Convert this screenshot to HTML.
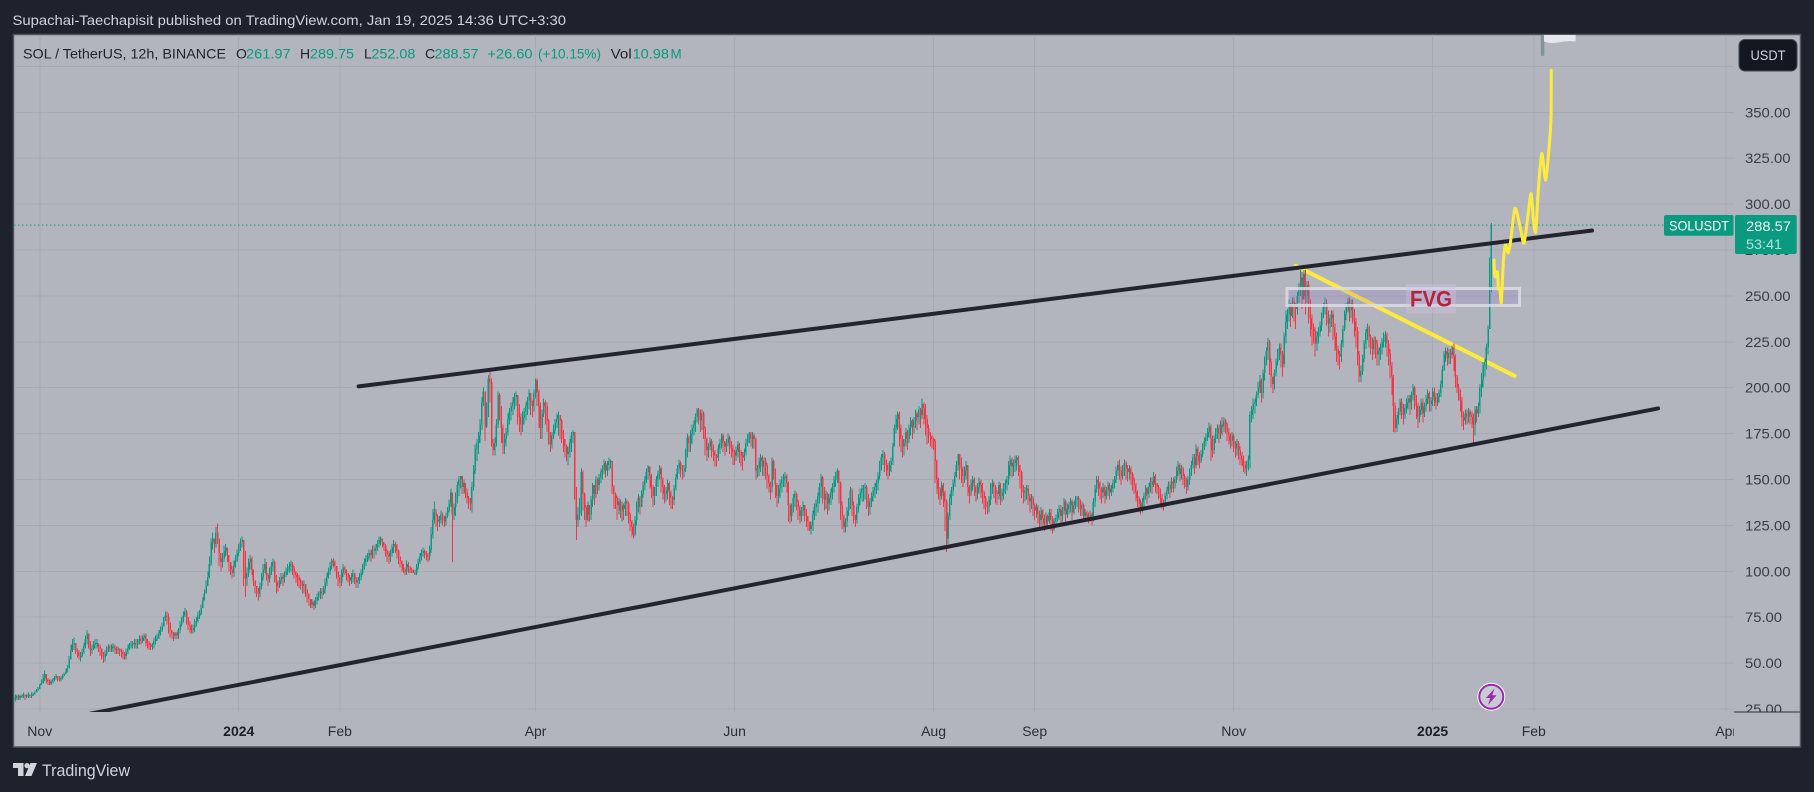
<!DOCTYPE html>
<html lang="en">
<head>
<meta charset="utf-8">
<title>SOL / TetherUS 12h chart</title>
<style>
html,body{margin:0;padding:0;width:1814px;height:792px;overflow:hidden;background:#1e222d}
svg{display:block;font-family:"Liberation Sans",sans-serif}
</style>
</head>
<body>
<svg id="stage" xmlns="http://www.w3.org/2000/svg" width="1814" height="792" viewBox="0 0 1814 792">
  <defs>
    <clipPath id="paneClip"><rect x="14" y="35" width="1720" height="677"/></clipPath>
    <clipPath id="priceAxisClip"><rect x="1734" y="35" width="66" height="677"/></clipPath>
    <clipPath id="timeAxisClip"><rect x="14" y="712" width="1720" height="34"/></clipPath>
  </defs>
  <rect x="0" y="0" width="1814" height="792" fill="#1e222d"/>
  <text x="12.5" y="25" font-size="14" fill="#d1d4dc" textLength="553.5" lengthAdjust="spacingAndGlyphs">Supachai-Taechapisit published on TradingView.com, Jan 19, 2025 14:36 UTC+3:30</text>
  <rect x="13.5" y="34.5" width="1787" height="712.5" fill="#b2b5be" stroke="#50535e" stroke-width="1.5"/>
  <g id="grid" clip-path="url(#paneClip)" shape-rendering="crispEdges"></g>
  <line id="lastPriceLine" x1="14" x2="1664" stroke="#089981" stroke-width="1" stroke-dasharray="1.5 2.5"/>
  <g id="trendLayer" clip-path="url(#paneClip)"></g>
  <g id="candles" clip-path="url(#paneClip)" shape-rendering="crispEdges"></g>
  <g id="drawings" clip-path="url(#paneClip)"></g>
  <g clip-path="url(#paneClip)">
    <rect x="1540.8" y="30" width="3.6" height="26" rx="1.5" fill="#84949f"/>
    <path d="M1544 30H1575.6V41.5Q1567 40.5 1558 42.5Q1550 44 1544 41.5Z" fill="#e4e8ee"/>
  </g>

  <g font-size="14">
    <text x="23" y="58.5" fill="#1f222c" textLength="203" lengthAdjust="spacingAndGlyphs">SOL / TetherUS, 12h, BINANCE</text>
    <text x="236" y="58.5" fill="#1f222c">O</text>
    <text x="246" y="58.5" fill="#089981" textLength="44.6" lengthAdjust="spacingAndGlyphs">261.97</text>
    <text x="300" y="58.5" fill="#1f222c">H</text>
    <text x="310" y="58.5" fill="#089981" textLength="44" lengthAdjust="spacingAndGlyphs">289.75</text>
    <text x="364" y="58.5" fill="#1f222c">L</text>
    <text x="371.4" y="58.5" fill="#089981" textLength="44" lengthAdjust="spacingAndGlyphs">252.08</text>
    <text x="425" y="58.5" fill="#1f222c">C</text>
    <text x="434.5" y="58.5" fill="#089981" textLength="44" lengthAdjust="spacingAndGlyphs">288.57</text>
    <text x="487.5" y="58.5" fill="#089981" textLength="45" lengthAdjust="spacingAndGlyphs">+26.60</text>
    <text x="538" y="58.5" fill="#089981" textLength="63" lengthAdjust="spacingAndGlyphs">(+10.15%)</text>
    <text x="610.7" y="58.5" fill="#1f222c" textLength="21" lengthAdjust="spacingAndGlyphs">Vol</text>
    <text x="632.6" y="58.5" fill="#089981" textLength="36.4" lengthAdjust="spacingAndGlyphs">10.98</text>
    <text x="670.5" y="58.5" fill="#089981" textLength="11.2" lengthAdjust="spacingAndGlyphs">M</text>
  </g>

  <g id="priceAxis" clip-path="url(#priceAxisClip)"></g>
  <g id="timeAxis" clip-path="url(#timeAxisClip)"></g>
  <line x1="1734" y1="712" x2="1800" y2="712" stroke="#2a2e39" stroke-width="1"/>

  <g>
    <rect x="1739" y="39.5" width="58" height="31.5" rx="6" fill="#131722" stroke="#454853"/>
    <text x="1750.5" y="60" font-size="14" fill="#d1d4dc" textLength="35" lengthAdjust="spacingAndGlyphs">USDT</text>
  </g>

  <g>
    <rect x="1664" y="215" width="69.5" height="20.7" rx="2" fill="#0a9a80"/>
    <text x="1669" y="230.5" font-size="14" fill="#ffffff" textLength="60" lengthAdjust="spacingAndGlyphs">SOLUSDT</text>
    <rect x="1735" y="215" width="61.7" height="39" rx="2" fill="#0a9a80"/>
    <text x="1746" y="231" font-size="14" fill="#e8f6f3" textLength="45" lengthAdjust="spacingAndGlyphs">288.57</text>
    <text x="1746" y="249" font-size="14" fill="#b5e1d8" textLength="36" lengthAdjust="spacingAndGlyphs">53:41</text>
  </g>

  <g>
    <circle cx="1491.3" cy="696.7" r="14" fill="#ffffff"/>
    <circle cx="1491.3" cy="696.7" r="12" fill="#c9cbd2" stroke="#9c27b0" stroke-width="2"/>
    <polygon points="1494.5,688.5 1486,698 1490.3,698 1488,705 1496.6,695.2 1492.2,695.2" fill="#9c27b0"/>
  </g>

  <g fill="#d1d4dc">
    <path d="M13 763H23.5V776H18V768H13Z"/>
    <circle cx="27" cy="765.6" r="2.6"/>
    <polygon points="30.5,763 37,763 31.5,776 25,776"/>
    <text x="42" y="776" font-size="17" textLength="88" lengthAdjust="spacingAndGlyphs">TradingView</text>
  </g>
</svg>

<script>
const closes = [
31,32,31,32,32,33,32,32,33,32,33,33,34,35,36,38,39,42,44,41,
40,39,40,41,42,43,42,41,42,43,44,45,47,52,57,60,61,57,56,54,
54,56,59,63,66,62,57,58,60,61,61,59,58,55,53,55,57,59,58,59,
59,58,57,58,57,56,55,54,56,58,60,60,61,61,60,62,63,62,64,65,
63,61,60,59,60,62,63,64,66,68,70,73,76,75,72,68,66,65,66,65,
68,71,73,76,78,75,71,70,68,69,72,73,76,77,80,84,88,92,97,104,
116,118,115,121,118,110,105,107,111,113,109,105,101,99,103,106,110,113,116,117,
110,96,99,105,107,101,95,92,89,88,92,97,101,104,98,96,100,103,105,97,
94,92,95,97,96,98,100,102,103,104,102,100,98,97,95,94,92,93,90,88,
85,82,83,81,84,86,87,89,88,90,94,97,100,103,106,105,103,100,97,94,
99,102,101,99,97,95,97,99,96,94,95,97,99,102,105,107,108,110,109,112,
111,113,115,117,118,116,114,111,109,108,110,113,115,114,111,108,106,104,101,100,
104,102,101,100,99,99,102,105,108,110,111,110,109,108,112,120,128,132,130,127,
128,131,129,127,130,133,137,143,131,135,141,147,150,152,146,148,143,140,138,137,
146,155,167,170,174,180,192,198,179,188,205,203,170,166,170,180,196,188,178,170,
172,176,183,187,190,192,195,196,190,184,180,184,187,190,193,197,192,190,197,204,
198,190,178,186,192,190,182,176,169,174,177,181,183,185,182,176,172,168,164,165,
170,174,176,145,128,131,138,154,142,135,128,136,131,139,147,142,150,147,151,154,
155,159,155,158,160,160,146,142,140,136,138,133,136,134,138,137,131,127,124,120,
128,136,140,135,142,147,150,154,157,152,146,141,144,150,153,156,150,146,142,144,
148,143,140,139,145,151,156,159,157,155,156,165,173,170,175,178,180,184,188,186,
182,186,178,172,166,168,171,168,165,163,162,167,170,174,171,168,170,173,170,167,
165,163,166,169,165,163,162,165,170,173,175,172,174,172,155,156,160,162,157,160,
158,152,148,146,160,155,147,141,145,148,150,151,152,148,136,130,135,140,142,138,
135,130,133,136,133,130,127,123,125,131,135,137,141,146,151,144,139,142,137,140,
143,146,150,152,155,148,136,130,124,127,133,138,144,136,130,128,135,140,143,145,
145,146,141,135,138,141,144,146,148,152,158,162,164,160,158,155,158,160,168,178,
183,186,178,172,168,170,176,172,178,182,179,182,186,184,188,185,191,189,183,178,
176,174,172,171,160,150,145,141,147,143,138,118,130,140,144,148,152,158,164,160,
156,152,155,158,146,143,148,150,146,143,146,149,147,143,140,137,135,139,146,148,
146,143,142,147,141,143,146,148,150,158,161,157,159,161,162,158,154,146,143,144,
145,141,138,140,136,133,135,131,128,133,129,126,130,127,132,128,123,127,129,132,
134,130,133,138,131,134,136,138,132,136,139,140,137,134,136,130,132,131,129,131,
130,138,145,150,148,145,143,146,141,144,147,143,145,148,150,155,158,155,152,156,
159,156,154,156,153,150,147,143,140,137,134,138,141,145,142,146,149,147,152,148,
146,143,140,137,136,141,144,147,145,149,148,150,155,158,153,156,152,149,146,150,
154,158,162,158,167,163,160,164,168,171,173,176,179,172,166,172,176,178,175,180,
179,182,180,176,174,171,174,170,167,170,166,163,161,158,156,158,161,185,188,191,
192,196,200,204,197,208,215,220,225,214,206,202,208,214,219,222,218,213,228,236,
240,245,239,247,244,243,250,255,260,248,262,250,256,246,238,232,231,224,228,230,
234,239,244,246,240,235,238,240,233,228,221,218,217,224,232,240,244,247,242,246,
241,236,231,218,206,209,216,224,230,233,228,225,221,226,224,218,220,222,225,228,
229,224,219,212,206,190,178,183,187,192,188,185,189,192,194,192,196,200,194,190,
184,188,192,186,190,194,197,191,193,198,195,192,195,197,202,210,218,220,216,219,
218,222,217,206,200,197,193,184,182,186,184,187,185,184,180,188,186,190,200,204,
212,214,222,232,261.97,288.57];

const highs = [
33,33,33,33,33,34,33,33,34,33,34,34,35,36,37,39,41,44,46,44,
42,41,41,42,43,44,43,43,43,44,45,47,49,54,60,63,64,60,58,57,
56,58,61,65,68,66,60,60,62,63,63,61,60,58,56,57,59,60,60,60,
61,60,59,59,58,58,57,56,58,60,61,62,62,63,63,63,65,65,65,66,
66,63,62,61,61,64,65,66,68,70,72,75,78,78,77,71,68,67,67,67,
69,73,75,78,80,79,75,73,71,71,74,75,78,79,82,86,90,95,100,108,
118,121,118,124,126,118,110,110,114,115,113,108,104,103,106,109,112,115,118,119,
117,111,102,107,109,108,100,95,92,91,94,99,104,107,105,99,102,105,107,106,
98,95,97,99,99,100,102,104,105,106,105,103,100,99,98,96,95,95,93,90,
88,85,85,84,86,88,89,91,91,92,96,99,102,105,107,107,106,103,100,98,
101,104,103,101,99,98,99,101,99,97,97,99,101,104,107,109,110,112,112,114,
114,115,117,119,119,118,116,115,112,111,112,115,117,116,115,112,108,106,104,102,
106,105,103,102,101,101,104,107,110,112,113,112,111,110,114,124,134,138,134,131,
130,133,132,130,132,135,139,145,143,137,143,149,152,152,152,150,148,145,141,140,
149,158,169,172,176,183,195,200,198,192,207,210,205,172,173,183,198,197,190,180,
175,178,186,189,192,195,197,198,196,191,186,187,189,192,195,199,197,193,199,205,
205,199,192,188,194,193,192,183,176,176,180,183,186,187,185,183,177,172,169,168,
172,176,177,176,146,135,140,156,155,143,136,138,136,141,148,147,152,151,153,156,
158,161,160,160,162,161,160,147,143,141,140,139,138,137,140,139,138,132,128,126,
130,138,142,141,144,149,152,156,158,157,153,147,146,152,155,158,157,151,147,146,
150,149,144,141,147,153,158,161,160,158,158,167,175,174,177,180,182,186,189,189,
188,188,187,179,173,170,173,172,169,166,164,169,172,175,175,171,172,175,174,171,
169,166,168,171,170,166,165,167,172,175,176,176,176,175,173,158,162,164,163,162,
162,159,153,149,162,161,156,148,147,150,152,153,154,153,149,137,137,142,144,143,
139,136,135,138,136,134,129,127,127,133,137,139,143,148,153,152,146,144,143,142,
145,148,152,154,156,155,149,138,131,129,135,140,146,145,138,131,137,142,145,147,
147,148,147,142,140,143,146,148,150,154,160,164,166,165,161,159,160,162,170,180,
185,187,187,180,174,172,178,177,180,184,183,184,188,187,190,189,194,192,191,185,
180,176,174,173,172,161,151,146,149,148,144,139,132,142,146,150,154,160,164,164,
162,157,157,160,158,147,150,152,151,147,148,151,150,148,144,141,138,141,148,150,
149,147,144,149,148,145,148,150,152,160,163,162,161,163,163,163,158,155,147,146,
147,147,142,142,141,137,137,136,133,135,134,131,132,131,134,134,130,129,131,134,
136,136,135,140,139,137,138,140,139,138,141,141,141,139,138,137,134,133,132,133,
132,140,147,152,152,149,146,148,147,146,149,148,147,150,152,157,160,161,157,158,
161,160,158,158,157,154,151,148,144,141,139,140,143,147,146,148,151,151,154,153,
148,147,145,142,139,143,146,149,149,151,151,152,157,160,159,158,157,153,151,152,
156,160,164,164,169,168,165,166,170,173,175,178,181,180,174,174,178,180,180,182,
184,184,183,181,178,175,176,175,171,172,171,168,165,163,160,160,163,187,190,194,
194,198,203,207,205,210,217,222,227,226,216,206,210,216,221,224,224,220,230,242,
243,248,246,249,249,246,252,257,264,263,264,264,258,258,248,240,235,233,231,233,
236,241,246,249,248,242,240,242,242,235,230,223,220,226,234,242,246,249,249,248,
248,243,238,233,220,212,218,226,232,235,234,229,227,228,228,226,222,224,227,230,
231,230,226,221,214,207,192,185,189,194,194,191,191,194,196,196,198,202,201,196,
192,190,194,194,192,196,199,198,195,200,200,197,197,199,204,212,220,222,222,221,
221,223,224,218,207,202,199,195,187,188,188,189,188,187,186,190,190,192,202,208,
214,216,224,234,271,289.75];

const lows = [
29,30,30,30,31,31,30,31,31,31,31,32,33,34,35,36,38,40,40,39,
38,38,38,39,40,41,40,40,40,41,43,44,45,47,52,56,57,55,53,52,
51,53,55,58,60,58,54,55,57,58,58,56,54,52,50,51,54,56,56,56,
56,55,55,55,54,53,52,52,52,55,57,58,58,58,58,58,60,60,61,62,
59,58,57,57,57,58,60,62,63,65,67,70,73,71,66,64,63,62,63,63,
63,66,70,72,75,71,68,66,66,66,67,70,72,74,76,80,85,88,92,96,
103,112,110,113,115,103,100,102,105,108,105,100,98,96,97,102,105,108,111,113,
92,86,92,97,101,98,92,88,86,84,86,90,95,99,95,92,94,98,100,94,
88,89,91,93,92,94,97,98,99,100,98,96,94,92,91,90,88,88,86,83,
81,80,80,79,80,82,84,85,85,87,88,92,96,98,101,102,100,96,92,91,
92,97,98,95,94,92,93,94,93,91,91,93,95,98,101,103,105,106,105,107,
107,109,111,113,114,113,111,108,105,104,105,108,110,110,107,104,102,100,99,98,
98,99,99,99,99,98,98,101,104,106,108,107,106,105,106,110,118,126,124,122,
124,126,125,124,125,129,132,135,105,128,130,137,141,145,142,142,140,137,134,133,
132,144,153,160,164,170,177,190,171,178,184,192,168,163,163,168,178,182,170,164,
164,168,174,180,182,185,188,190,180,176,174,176,180,182,185,188,185,184,187,194,
190,178,172,172,184,180,176,169,165,167,172,175,178,174,172,170,165,162,160,158,
162,165,170,139,117,124,128,130,133,128,124,127,127,128,135,136,140,142,144,148,
150,153,151,152,155,156,142,134,134,128,131,129,127,128,130,130,126,122,119,118,
119,125,132,131,136,140,144,148,150,145,140,135,136,141,146,150,143,139,137,138,
139,136,134,134,136,144,150,153,151,150,151,154,162,165,165,169,174,176,181,180,
176,177,172,163,160,162,166,162,160,157,157,160,164,167,165,163,165,168,164,162,
158,158,160,162,159,157,155,160,163,168,170,168,167,167,150,151,152,154,152,152,
150,145,143,139,143,150,140,135,137,140,143,146,146,143,127,126,127,132,135,133,
128,126,127,130,127,124,122,122,120,122,128,130,132,137,140,137,133,134,131,133,
136,139,143,146,148,137,128,123,121,121,124,130,134,130,126,124,126,132,136,138,
138,139,134,130,131,135,138,140,142,144,150,155,158,154,152,150,152,154,158,168,
175,177,168,165,162,163,168,166,170,174,172,175,178,177,180,178,183,180,174,169,
170,168,167,166,148,142,139,136,139,135,122,110.6,115,128,136,141,146,151,155,150,
148,146,148,150,141,137,141,144,141,138,139,142,140,137,134,131,131,132,136,142,
140,137,136,139,136,138,139,142,144,147,152,151,152,154,155,152,145,140,137,138,
139,136,132,134,130,128,129,126,124,125,123,122,124,123,126,122,120.6,122,125,127,
128,126,127,131,127,129,131,132,128,131,134,135,132,130,130,127,128,127,126,127,
125,127,135,143,141,139,137,140,137,139,141,139,141,143,145,148,152,150,147,150,
152,150,149,150,147,144,142,138,135,132,131,132,135,139,137,140,143,142,146,143,
142,139,136,134,133,135,139,142,140,143,143,145,148,152,149,150,147,145,142,144,
147,152,156,153,156,158,156,159,162,166,168,171,173,160,162,164,170,172,170,172,
174,176,175,171,169,167,168,165,162,163,161,158,157,154,153,152,155,156,181,183,
186,190,194,197,192,194,204,212,215,207,200,197,199,206,212,215,211,206,211,224,
232,236,233,238,236,232,240,246,250,243,250,240,246,235,228,223,224,217,220,224,
228,231,238,240,234,228,230,233,226,220,214,212,210,214,222,231,237,241,236,238,
235,228,222,212,203,203,207,214,221,226,222,218,215,218,216,212,212,215,218,222,
222,217,212,205,196,176,175.5,176,180,185,183,180,183,186,188,185,188,193,188,183,
178,181,185,181,184,187,191,187,187,190,190,188,190,192,195,200,209,214,212,213,
213,216,209,200,197,193,187,179,177,180,180,181,180,178,170,174,181,184,186,195,
200,206,210,218,239,252.08];

const firstOpen = 31;
const lastPrice = 288.57;
const priceTicks = [375,350,325,300,275,250,225,200,175,150,125,100,75,50,25];
const priceTickLabels = ["","350.00","325.00","300.00","275.00","250.00","225.00","200.00","175.00","150.00","125.00","100.00","75.00","50.00","25.00"];
const timeTickBars = [15,137,199,319,441,563,625,747,869,931,1049];
const timeTickLabels = ["Nov","2024","Feb","Apr","Jun","Aug","Sep","Nov","2025","Feb","Apr"];
const timeTickMajor = ["2024","2025"];
const channelUpperBars = [210.5,966.7];
const channelUpperPrices = [200.7,285.6];
const channelLowerBars = [45.8,1007.2];
const channelLowerPrices = [22.4,188.7];
const trendBars = [785,919.3];
const trendPrices = [266.4,206.4];
const fvgBars = [779.7,922.3];
const fvgPrices = [254,244.8];
const fvgLabelBar = 868;
const fvgLabelPrice = 248.5;
const projectionBars = [906.6,907.2,908.7,909.3,910.3,911.1,912.3,913.6,915.4,916.9,919.5,922.6,925,927.1,929.3,930.8,932.2,933.8,935.9,938.3,940.6,941.6,941.7];
const projectionPrices = [269.5,260.5,263.2,254.1,253.6,246.3,267.7,277.7,273.5,280.4,297.7,287.7,278.6,291.3,305.8,291.3,285,307.7,327.6,313.1,333.1,347.6,373];

const NS = 'http://www.w3.org/2000/svg';
const xScale = function (bar) { return 15.3 + 1.631 * bar; };
const yScale = function (price) { return 709 - (price - 25) * 1.836; };
function make(tag, attrs, parent) {
  const el = document.createElementNS(NS, tag);
  for (const k in attrs) el.setAttribute(k, attrs[k]);
  parent.appendChild(el);
  return el;
}

const gridLayer = document.getElementById('grid');
const candleLayer = document.getElementById('candles');
const trendLayer = document.getElementById('trendLayer');
const drawingLayer = document.getElementById('drawings');
const priceAxisLayer = document.getElementById('priceAxis');
const timeAxisLayer = document.getElementById('timeAxis');

priceTicks.forEach(function (p, i) {
  const y = yScale(p);
  const line = make('line', {x1: 14, x2: 1734, y1: y, y2: y, stroke: '#a7aab3', 'stroke-width': 1}, gridLayer);
  
  
  if (priceTickLabels[i]) {
    const label = make('text', {x: 1745, y: y + 5, 'font-size': 14, fill: '#383b46', textLength: priceTickLabels[i].length === 6 ? 45.5 : 37, lengthAdjust: 'spacingAndGlyphs'}, priceAxisLayer);
    label.textContent = priceTickLabels[i];
    
    
  }
});

timeTickBars.forEach(function (b, i) {
  const x = xScale(b);
  const line = make('line', {x1: x, x2: x, y1: 35, y2: 712, stroke: '#a7aab3', 'stroke-width': 1}, gridLayer);
  
  
  const major = timeTickMajor.indexOf(timeTickLabels[i]) >= 0;
  const label = make('text', {x: x, y: 736, 'font-size': 14, 'text-anchor': 'middle', fill: major ? '#1b1e28' : '#2a2d38', 'font-weight': major ? 'bold' : 'normal'}, timeAxisLayer);
  label.textContent = timeTickLabels[i];
  
  
});

const priceLine = document.getElementById('lastPriceLine');
priceLine.setAttribute('y1', yScale(lastPrice));
priceLine.setAttribute('y2', yScale(lastPrice));

closes.forEach(function (c, i) {
  const o = i === 0 ? firstOpen : closes[i - 1];
  const h = Math.max(highs[i], o, c);
  const l = Math.min(lows[i], o, c);
  const color = c >= o ? '#089981' : '#f23645';
  const x = xScale(i);
  const g = make('g', {fill: color}, candleLayer);
  
  
  const wick = make('rect', {x: x - 0.5, width: 1, y: yScale(h), height: Math.max(yScale(l) - yScale(h), 1)}, g);
  
  
  const top = yScale(Math.max(o, c));
  const bottom = yScale(Math.min(o, c));
  const body = make('rect', {x: x - 0.75, width: 1.5, y: top, height: Math.max(bottom - top, 1)}, g);
  
  
});

const trend = make('line', {x1: xScale(trendBars[0]), y1: yScale(trendPrices[0]), x2: xScale(trendBars[1]), y2: yScale(trendPrices[1]), stroke: '#ffeb3b', 'stroke-width': 4, 'stroke-linecap': 'round'}, trendLayer);


const upper = make('line', {x1: xScale(channelUpperBars[0]), y1: yScale(channelUpperPrices[0]), x2: xScale(channelUpperBars[1]), y2: yScale(channelUpperPrices[1]), stroke: '#23242f', 'stroke-width': 4, 'stroke-linecap': 'round'}, drawingLayer);


const lower = make('line', {x1: xScale(channelLowerBars[0]), y1: yScale(channelLowerPrices[0]), x2: xScale(channelLowerBars[1]), y2: yScale(channelLowerPrices[1]), stroke: '#23242f', 'stroke-width': 4, 'stroke-linecap': 'round'}, drawingLayer);



const fvgBox = make('rect', {x: xScale(fvgBars[0]), y: yScale(fvgPrices[0]), width: xScale(fvgBars[1]) - xScale(fvgBars[0]), height: yScale(fvgPrices[1]) - yScale(fvgPrices[0]), fill: 'rgba(149,117,205,0.2)', stroke: 'rgba(222,224,232,0.8)', 'stroke-width': 3}, drawingLayer);


const fvgX = xScale(fvgLabelBar);
const fvgY = yScale(fvgLabelPrice);
const fvgBg = make('rect', {x: fvgX - 25, y: fvgY - 14.6, width: 50, height: 29.4, fill: 'rgba(209,196,233,0.35)'}, drawingLayer);


const fvgText = make('text', {x: fvgX, y: fvgY + 8, 'font-size': 22, 'font-weight': 'bold', 'text-anchor': 'middle', fill: '#b4233a', textLength: 42, lengthAdjust: 'spacingAndGlyphs'}, drawingLayer);
fvgText.textContent = 'FVG';



const pts = projectionBars.map(function (b, i) { return [xScale(b), yScale(projectionPrices[i])]; });
let d = 'M' + pts[0][0] + ' ' + pts[0][1];
for (let i = 0; i < pts.length - 1; i++) {
  const p0 = pts[Math.max(i - 1, 0)];
  const p1 = pts[i];
  const p2 = pts[i + 1];
  const p3 = pts[Math.min(i + 2, pts.length - 1)];
  d += ' C' + (p1[0] + (p2[0] - p0[0]) / 8) + ' ' + (p1[1] + (p2[1] - p0[1]) / 8) + ' ' + (p2[0] - (p3[0] - p1[0]) / 8) + ' ' + (p2[1] - (p3[1] - p1[1]) / 8) + ' ' + p2[0] + ' ' + p2[1];
}
const projection = make('path', {d: d, fill: 'none', stroke: '#ffeb3b', 'stroke-width': 3, 'stroke-linecap': 'round', 'stroke-linejoin': 'round'}, drawingLayer);


</script>
</body>
</html>
